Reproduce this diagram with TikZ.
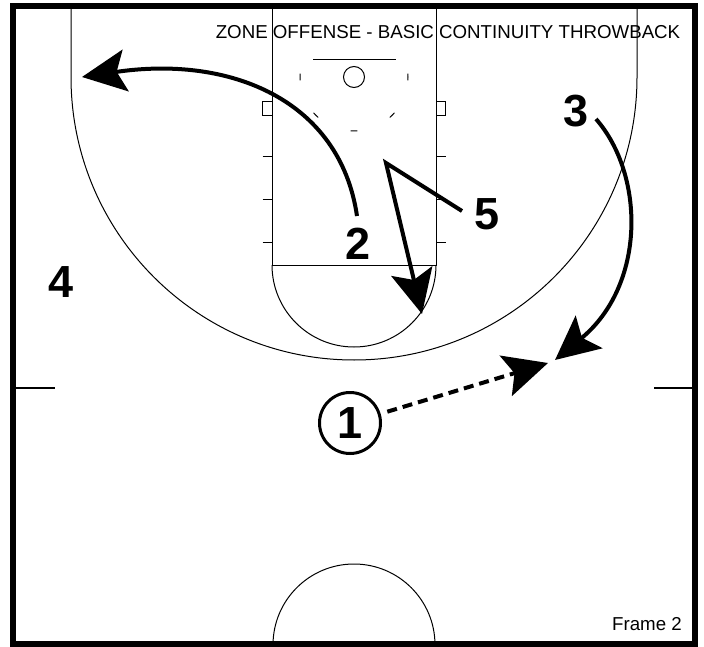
\documentclass[tikz,border=0pt]{standalone}
\usepackage{fontspec}
\setmainfont{Liberation Sans}
\usetikzlibrary{arrows.meta, calc}

\tikzset{
    court/.style={line width=1pt},
    rand/.style={line width=6pt},
    player/.style={font=\fontsize{45}{45}\selectfont\bfseries, inner sep=0pt},
    run/.style={line width=4pt, -{Stealth[length=44pt, width=42pt, inset=9pt]}},
    pass/.style={run, dash pattern=on 10pt off 6pt},
    caption/.style={font=\fontsize{18.7}{20}\selectfont, inner sep=0pt}
}

\begin{document}
\begin{tikzpicture}[x=1pt, y=-1pt]
    \useasboundingbox (0,0) rectangle (704,647);
    \draw[court] (71,6) -- (71,77) arc[start angle=180, end angle=0, radius=283] -- (637,6);
    \draw[court] (272,6) rectangle (436,265);
    \draw[court] (272,265) arc[start angle=180, end angle=0, radius=82];
    \draw[court] (313,60) -- (396,60);
    \draw[court] (354,77) circle[radius=10.5];
    \foreach \w in {0,45,90,135,180}
        \draw[court] ($(354,77)+(\w-3.5:54)$) arc[start angle=\w-3.5, end angle=\w+3.5, radius=54];
    \draw[court] (262.5,102) rectangle (272,116);
    \draw[court] (436,102) rectangle (445.5,116);
    \foreach \h in {157,200,242} {
        \draw[court] (262.5,\h) -- (272,\h);
        \draw[court] (436,\h) -- (445.5,\h);
    }
    \draw[court, line width=1.5pt] (13,388) -- (55,388);
    \draw[court, line width=1.5pt] (654,388) -- (695,388);
    \draw[court] (273,645) arc[start angle=180, end angle=360, radius=81];
    \draw[rand] (13,6) rectangle (695,644);

    \path node[caption, anchor=base] (title) at (448,39) {ZONE OFFENSE - BASIC CONTINUITY THROWBACK}
        node[caption, anchor=base east] (frame) at (682,630) {Frame 2}
        node[player, draw, circle, line width=3pt, minimum size=61pt] (p1) at (350,423) {1}
        node[player] (p2) at (358.5,244) {2}
        node[player] (p3) at (576,111) {3}
        node[player] (p4) at (61,282) {4}
        node[player] (p5) at (487,214) {5};

    \coordinate (s2) at (357,216);
    \coordinate (e2) at (82,77);
    \coordinate (s3) at (596,119);
    \coordinate (e3) at (555,360);
    \coordinate (s5) at (462,211);
    \coordinate (k5) at (386,163);
    \coordinate (e5) at (422,314);
    \coordinate (e1) at (548,363);

    \draw[run] (s2) .. controls (340,100) and (230,55) .. (e2);
    \draw[run] (s3) .. controls (645,175) and (646,285) .. (e3);
    \draw[run] (s5) -- (k5) -- (e5);
    \draw[pass, shorten <=7pt] (p1) -- (e1);
\end{tikzpicture}
\end{document}
